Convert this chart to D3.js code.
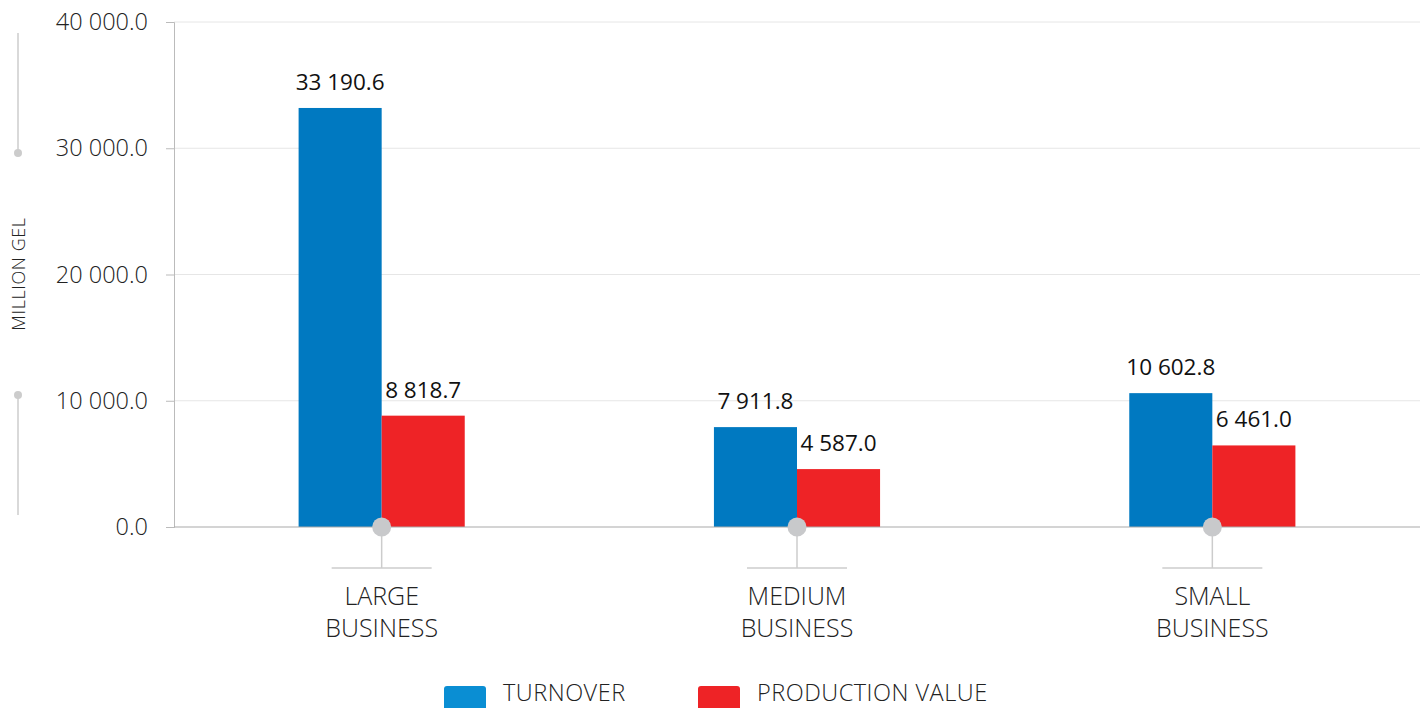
<!DOCTYPE html>
<html><head><meta charset="utf-8">
<script src="https://cdn.jsdelivr.net/npm/d3@7"></script>
<style>
body{margin:0;background:#fff;}
text{font-family:"Open Sans","Noto Sans",sans-serif;}
</style></head>
<body><svg id="c" width="1426" height="708"></svg>
<script>
const categories = [["LARGE","BUSINESS"],["MEDIUM","BUSINESS"],["SMALL","BUSINESS"]];
const seriesNames = ["TURNOVER","PRODUCTION VALUE"];
const turnover = [33190.6, 7911.8, 10602.8];
const production = [8818.7, 4587.0, 6461.0];
const yTicks = [0, 10000, 20000, 30000, 40000];
const colors = ["#0079c1", "#ee2326"];
const legendColors = ["#0a8ed3", "#ee2326"];

(function(){
const svg = d3.select("#c");
const mLeft = 174, mRight = 1420, mTop = 22, mBottom = 527;
const fmt = v => d3.format(",.1f")(v).replace(/,/g, " ");

const x = d3.scaleBand().domain(d3.range(categories.length)).range([mLeft, mRight]);
const y = d3.scaleLinear().domain([0, 40000]).range([mBottom, mTop]);
const barW = x.bandwidth() * 0.2;

svg.append("g").selectAll("line").data(yTicks.filter(t => t > 0)).join("line")
  .attr("x1", mLeft).attr("x2", mRight).attr("y1", d => y(d)).attr("y2", d => y(d))
  .attr("stroke", "#e6e6e6").attr("stroke-width", 1);

const ya = svg.append("g").attr("transform", `translate(${mLeft},0)`)
  .call(d3.axisLeft(y).tickValues(yTicks).tickSize(8).tickPadding(18).tickFormat(fmt));
ya.select(".domain").attr("stroke", "#bbb");
ya.selectAll(".tick line").attr("stroke", "#bbb");
ya.selectAll(".tick text").attr("font-size", 23.5).attr("fill", "#222").attr("font-family", "Open Sans").attr("font-weight", 300);

const data = [turnover, production];
data.forEach((vals, si) => {
  svg.append("g").selectAll("rect").data(vals).join("rect")
    .attr("x", (d, i) => x(i) + x.bandwidth() / 2 - barW + si * barW)
    .attr("y", d => y(d)).attr("width", barW).attr("height", d => y(0) - y(d))
    .attr("fill", colors[si]);
  svg.append("g").selectAll("text").data(vals).join("text")
    .attr("x", (d, i) => x(i) + x.bandwidth() / 2 - barW + si * barW + barW / 2)
    .attr("y", d => y(d) - 18)
    .attr("text-anchor", "middle").attr("font-size", 22.5).attr("fill", "#111")
    .text(fmt);
});

svg.append("line").attr("x1", mLeft).attr("x2", mRight).attr("y1", mBottom).attr("y2", mBottom)
  .attr("stroke", "#aaa").attr("stroke-width", 1.2);

const cg = svg.append("g").selectAll("g").data(categories).join("g")
  .attr("transform", (d, i) => `translate(${x(i) + x.bandwidth() / 2},0)`);
cg.append("line").attr("x1", 0).attr("x2", 0).attr("y1", mBottom).attr("y2", 568).attr("stroke", "#ccc").attr("stroke-width", 1.5);
cg.append("line").attr("x1", -50).attr("x2", 50).attr("y1", 568).attr("y2", 568).attr("stroke", "#ccc").attr("stroke-width", 1.5);
cg.append("circle").attr("cx", 0).attr("cy", mBottom).attr("r", 9.5).attr("fill", "#c8c9cb");
cg.each(function(d) {
  const g = d3.select(this);
  d.forEach((line, k) => {
    g.append("text").attr("x", 0).attr("y", 605 + k * 32).attr("text-anchor", "middle")
      .attr("font-size", 25).attr("font-weight", 300).attr("fill", "#222").text(line);
  });
});

svg.append("line").attr("x1", 18).attr("x2", 18).attr("y1", 33).attr("y2", 153).attr("stroke", "#ccc").attr("stroke-width", 1.5);
svg.append("circle").attr("cx", 18).attr("cy", 153).attr("r", 4).attr("fill", "#ccc");
svg.append("line").attr("x1", 18).attr("x2", 18).attr("y1", 395).attr("y2", 515).attr("stroke", "#ccc").attr("stroke-width", 1.5);
svg.append("circle").attr("cx", 18).attr("cy", 395).attr("r", 4).attr("fill", "#ccc");
svg.append("text").attr("transform", "translate(25,274) rotate(-90)").attr("text-anchor", "middle")
  .attr("font-size", 18).attr("font-weight", 300).attr("fill", "#222").attr("letter-spacing", 0.6).text("MILLION GEL");

const legX = [444, 698];
seriesNames.forEach((s, i) => {
  svg.append("rect").attr("x", legX[i]).attr("y", 686).attr("width", 42).attr("height", 26).attr("rx", 3)
    .attr("fill", legendColors[i]);
  svg.append("text").attr("x", legX[i] + 59).attr("y", 701).attr("font-size", 23.5).attr("font-weight", 300)
    .attr("fill", "#222").attr("letter-spacing", 0.5).text(s);
});
})();
</script></body></html>
